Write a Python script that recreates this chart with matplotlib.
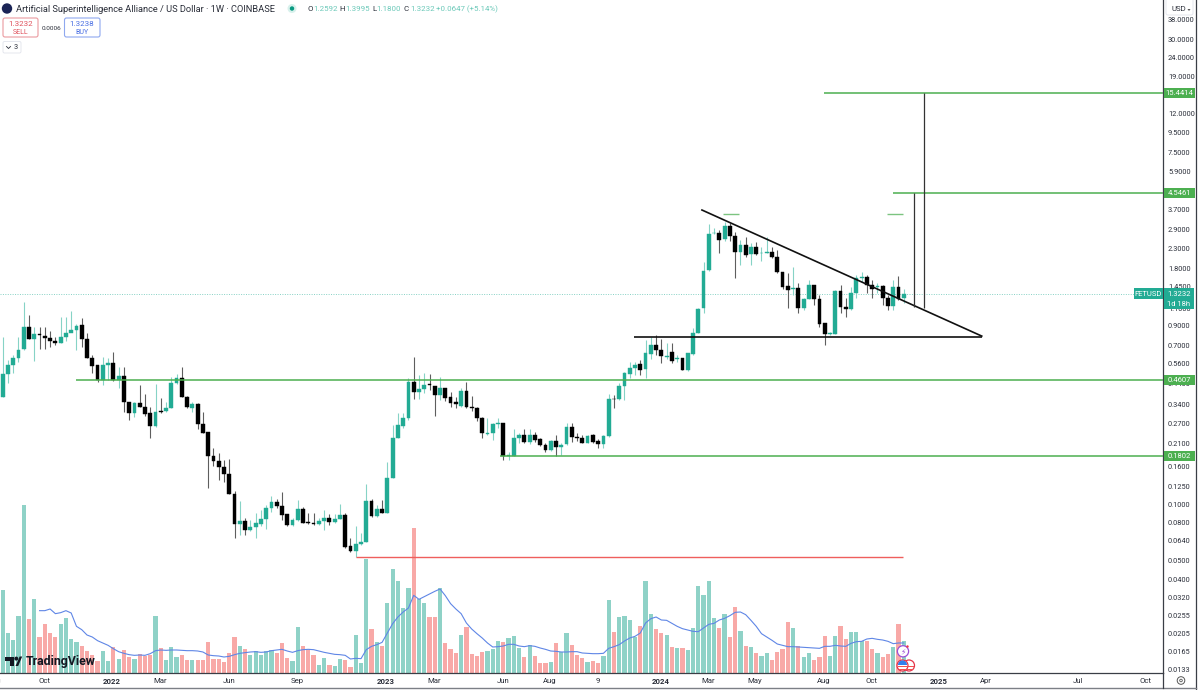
import matplotlib
matplotlib.use("Agg")
import matplotlib.pyplot as plt
from matplotlib.patches import Rectangle, FancyBboxPatch, Circle, Polygon, Wedge
from matplotlib.transforms import blended_transform_factory
import numpy as np

plt.rcParams['font.family'] = ['Roboto', 'DejaVu Sans']

OPENS = [.374,.494,.555,.600,.669,.876,.756,.808,.792,.773,
 .738,.726,.775,.821,.848,.900,.756,.604,.550,.459,
 .555,.564,.459,.480,.350,.306,.348,.332,.305,.261,
 .315,.315,.326,.443,.469,.372,.327,.343,.267,.242,
 .180,.171,.158,.146,.114,.0783,.0820,.0733,.0761,.0783,
 .0836,.0953,.1035,.0985,.0886,.0774,.0826,.0941,.0806,.0793,
 .0783,.0816,.0847,.0806,.0840,.0883,.0601,.0566,.0615,.0629,
 .104,.0868,.0947,.0904,.139,.227,.263,.288,.446,.395,
 .410,.436,.428,.380,.417,.371,.350,.334,.403,.331,
 .327,.289,.238,.241,.267,.270,.182,.182,.226,.234,
 .215,.234,.222,.207,.195,.217,.203,.209,.257,.229,
 .225,.213,.233,.217,.210,.231,.366,.363,.426,.494,
 .531,.557,.523,.635,.709,.667,.612,.650,.592,.599,
 .519,.632,.821,1.105,1.769,2.77,2.79,2.58,3.03,2.69,
 2.21,2.40,2.14,2.35,2.17,2.19,2.21,2.07,1.735,1.45,
 1.395,1.418,1.105,1.24,1.48,1.24,.92,.805,.805,1.36,
 1.128,1.096,1.329,1.61,1.62,1.465,1.43,1.455,1.26,1.137,1.44,1.2592]
HIGHS = [.775,.587,.624,.775,1.20,1.02,.876,.876,.883,.838,
 .781,.998,.998,1.075,.913,.978,.821,.624,.554,.611,
 .604,.645,.536,.536,.350,.352,.432,.386,.331,.437,
 .369,.352,.474,.492,.539,.377,.352,.345,.312,.242,
 .199,.187,.172,.174,.118,.104,.0844,.0826,.0897,.0934,
 .0992,.111,.107,.117,.0890,.0843,.106,.0973,.0904,.0897,
 .0843,.0934,.0890,.0890,.100,.0904,.0659,.0767,.0702,.129,
 .107,.0992,.106,.169,.264,.305,.305,.472,.606,.488,
 .498,.492,.428,.478,.417,.398,.374,.417,.446,.377,
 .331,.293,.287,.270,.287,.270,.191,.251,.239,.251,
 .251,.244,.225,.211,.220,.234,.211,.270,.270,.239,
 .234,.234,.237,.223,.234,.387,.380,.441,.508,.576,
 .576,.587,.750,.781,.795,.756,.720,.726,.624,.599,
 .642,.865,1.105,1.96,3.11,2.95,2.89,3.20,3.13,2.83,
 2.55,2.64,2.45,2.50,2.35,2.66,2.34,2.26,1.735,1.71,
 1.84,1.50,1.25,1.565,1.48,1.31,.927,.83,1.384,1.47,
 1.26,1.43,1.665,1.73,1.665,1.565,1.50,1.47,1.30,1.565,1.645,1.3995]
LOWS = [.374,.441,.503,.575,.664,.756,.582,.669,.669,.685,
 .705,.720,.744,.831,.664,.691,.599,.498,.450,.432,
 .459,.455,.414,.311,.282,.293,.331,.295,.226,.259,
 .305,.311,.325,.437,.372,.325,.311,.251,.241,.122,
 .160,.135,.131,.113,.0664,.069,.0690,.0722,.0666,.0767,
 .0737,.0915,.0953,.0826,.0767,.0767,.0820,.0793,.0787,.0777,
 .0777,.0731,.0774,.0793,.0833,.0584,.0560,.0527,.0609,.0629,
 .0861,.0861,.0897,.0904,.138,.225,.255,.281,.365,.363,
 .390,.406,.295,.359,.356,.331,.325,.331,.327,.315,
 .279,.227,.234,.220,.254,.173,.173,.182,.211,.211,
 .209,.216,.204,.191,.193,.182,.184,.207,.216,.218,
 .211,.211,.213,.199,.199,.229,.325,.359,.359,.469,
 .488,.488,.469,.592,.624,.569,.592,.564,.575,.517,
 .515,.624,.814,1.04,1.75,2.74,2.17,2.53,2.53,1.60,
 1.88,2.08,1.88,2.13,1.98,2.17,2.05,1.71,1.41,1.105,
 1.30,1.05,1.083,1.235,1.15,.876,.702,.797,.805,1.04,
 .998,1.09,1.25,1.53,1.33,1.26,1.33,1.15,1.09,1.09,1.224,1.18]
CLOSES = [.494,.555,.604,.664,.876,.756,.808,.795,.773,.738,
 .726,.775,.821,.848,.894,.756,.599,.547,.457,.555,
 .564,.459,.480,.352,.308,.347,.332,.303,.261,.312,
 .311,.326,.443,.469,.372,.328,.341,.267,.241,.180,
 .171,.158,.145,.114,.0783,.0816,.0733,.0761,.0793,.0836,
 .0953,.1035,.0985,.0879,.0774,.0826,.0941,.0800,.0793,.0783,
 .0816,.0847,.0806,.0840,.0879,.0596,.0566,.0615,.0634,.104,
 .0868,.0947,.0904,.139,.227,.264,.288,.446,.395,.410,
 .432,.430,.380,.417,.369,.345,.343,.403,.331,.325,
 .288,.239,.241,.267,.270,.182,.184,.226,.234,.214,
 .234,.220,.206,.194,.217,.203,.207,.257,.229,.225,
 .213,.232,.216,.209,.231,.363,.362,.426,.498,.531,
 .555,.519,.637,.709,.664,.616,.620,.582,.599,.519,
 .637,.821,1.096,1.755,2.75,2.79,2.56,3.03,2.68,2.21,
 2.40,2.13,2.35,2.14,2.19,2.21,2.07,1.72,1.44,1.384,
 1.418,1.105,1.24,1.48,1.24,.913,.808,.814,1.367,1.128,
 1.096,1.329,1.61,1.63,1.47,1.41,1.455,1.26,1.137,1.44,1.245,1.3232]
VOLUMES = [250,120,100,172,505,163,222,108,147,120,
 107,148,165,103,94,80,67,53,37,67,
 37,77,43,70,49,43,57,51,53,172,
 75,40,79,49,53,39,39,40,40,93,
 43,43,33,60,107,81,72,55,66,55,
 65,70,61,91,44,35,138,82,70,53,
 23,46,25,21,43,38,17,114,30,342,
 133,93,82,210,312,275,196,256,435,222,
 210,168,168,255,90,72,59,115,138,56,
 51,63,67,73,96,93,105,112,74,48,
 84,51,31,29,34,89,62,119,84,55,
 44,33,36,31,50,220,122,169,171,159,
 107,141,277,176,133,121,113,77,74,75,
 69,135,261,235,277,166,136,176,109,197,
 125,81,79,61,51,61,39,64,71,152,
 135,80,47,59,39,47,110,51,110,141,
 103,124,124,95,97,73,59,47,57,79,148,95]
VOLUME_MA = [187,187,192,178,181,187,180,140,130,114,
 108,97,90,83,73,64,59,55,53,54,
 53,58,67,69,68,69,69,68,67,67,
 66,63,54,52,51,48,50,55,59,61,
 63,64,62,63,67,69,71,66,62,67,
 70,71,70,66,62,59,56,55,53,42,
 44,43,70,80,85,92,120,148,168,183,
 195,233,221,229,237,245,252,232,208,192,
 178,150,132,118,105,90,78,79,81,86,
 86,81,79,82,80,75,71,66,65,63,
 63,64,64,60,59,58,58,59,74,79,
 85,96,105,110,120,150,163,168,159,158,
 149,140,133,129,125,124,135,146,149,159,
 164,172,182,183,175,158,140,118,108,98,
 87,83,79,79,78,77,76,75,74,80,
 80,83,81,80,89,94,95,102,104,101,
 99,95,88,90,90]
MA_START = 7

PRICE_TICKS = [38,30,24,19,12,9.5,7.5,5.9,4.6,3.7,2.9,2.3,1.8,1.45,1.1,.9,.7,.56,.44,
               .34,.27,.21,.16,.125,.1,.08,.064,.05,.04,.032,.0255,.0205,.0165,.0133]
TIME_POS = [-1.6,7.84,20.7,29.8,42.9,55.8,72.7,81.8,94.9,103.8,112.9,124.9,133.8,142.8,155.8,164.8,177.7,186.6,204,216.8]
TIME_LABELS = ['Aug','Oct','2022','Mar','Jun','Sep','2023','Mar','Jun','Aug','9','2024','Mar','May','Aug','Oct','2025','Apr','Jul','Oct']
YEAR_LABELS = {'2022','2023','2024','2025'}

HLEVELS = [15.4414, 4.5461, 0.4607, 0.1802]
HSTARTS = [155.9, 169, 13.9, 94.4]
RED_LEVEL = 0.0527
RED_SPAN = [67, 170.8]
SUPPORT_LEVEL = 0.778
SUPPORT_SPAN = [119.8, 185.8]
TREND_X = [132.7, 185.8]
TREND_Y = [3.69, 0.787]
TARGET_X = [172.9, 174.8]
TARGET_TOP = [4.5461, 15.4414]
TARGET_BOTTOM = [1.12, 1.11]
SHORT_LEVEL = 3.51
SHORT_SPANS = [[136.7, 139.7], [167.8, 170.8]]
LAST_PRICE = 1.3232

GREEN = '#22ab94'; GWICK = '#86d3c6'; BLACK = '#000000'; BWICK = '#5e5e5e'
VGREEN = '#8fd2c7'; VRED = '#f8a9a7'; MA_BLUE = '#5f86e6'
LEVEL = '#4caf50'; RED = '#ef5f5c'; AXIS = '#3a3e46'; TXT = '#2a2e39'

W, H = 1200, 690
fig = plt.figure(figsize=(12, 6.9), dpi=100, facecolor='white')
rect = [0, 1-673/H, 1162.5/W, 673/H]
vax = fig.add_axes(rect, zorder=1)
ax = fig.add_axes(rect, zorder=2)
ax.patch.set_alpha(0)

XLIM = (-0.51, 220.1)
idx = np.arange(len(CLOSES))
o, h, l, c = map(np.array, (OPENS, HIGHS, LOWS, CLOSES))
up = c >= o

vax.bar(idx, VOLUMES, width=0.8, color=[VGREEN if u else VRED for u in up], linewidth=0)
vax.plot(np.arange(MA_START, MA_START+len(VOLUME_MA)), VOLUME_MA, color=MA_BLUE, lw=0.8)
vax.set_xlim(*XLIM); vax.set_ylim(0, 2019)
vax.axis('off')

ax.set_yscale('log')
ax.set_xlim(*XLIM)
ax.set_ylim(0.012668, 48.4)
ax.vlines(idx[up], l[up], h[up], color=GWICK, lw=0.8, zorder=2)
ax.vlines(idx[~up], l[~up], h[~up], color=BWICK, lw=0.8, zorder=2)
bodyc = [GREEN if u else BLACK for u in up]
ax.bar(idx, np.abs(c-o), bottom=np.minimum(o, c), width=0.72, color=bodyc, edgecolor=bodyc, linewidth=0.3, zorder=3)

ax.axhline(LAST_PRICE, color=GREEN, lw=0.7, ls=(0, (1, 1.5)), alpha=0.55, zorder=1)
for lev, st in zip(HLEVELS, HSTARTS):
    ax.hlines(lev, st, XLIM[1], color=LEVEL, lw=1.1, zorder=4)
ax.hlines(RED_LEVEL, *RED_SPAN, color=RED, lw=1.0, zorder=4)
ax.hlines(SUPPORT_LEVEL, *SUPPORT_SPAN, color='#111111', lw=1.2, zorder=4)
ax.plot(TREND_X, TREND_Y, color='#111111', lw=1.2, zorder=4)
ax.vlines(TARGET_X, TARGET_BOTTOM, TARGET_TOP, color='#333333', lw=0.9, zorder=4)
for span in SHORT_SPANS:
    ax.hlines(SHORT_LEVEL, *span, color='#7cc480', lw=1.0, zorder=4)

ax.minorticks_off()
ax.yaxis.tick_right()
ax.set_yticks(PRICE_TICKS)
ax.set_yticklabels([f'{t:.4f}' for t in PRICE_TICKS], fontsize=5.3, color=TXT)
ax.yaxis.set_minor_locator(matplotlib.ticker.NullLocator())
ax.tick_params(axis='y', length=0, pad=4.0)
ax.set_xticks([])
for s in ('top', 'left'):
    ax.spines[s].set_visible(False)
ax.spines['right'].set_color(AXIS); ax.spines['right'].set_linewidth(0.9)
ax.spines['bottom'].set_color(AXIS); ax.spines['bottom'].set_linewidth(0.9)
tr = blended_transform_factory(ax.transData, ax.transAxes)
for p, lab in zip(TIME_POS, TIME_LABELS):
    ax.text(p, -8/673, lab, transform=tr, ha='center', va='center', fontsize=5.6, color=TXT,
            fontweight='bold' if lab in YEAR_LABELS else 'normal', clip_on=False)

# overlay in pixel coordinates for the terminal chrome
ov = fig.add_axes([0, 0, 1, 1], zorder=5)
ov.set_xlim(0, W); ov.set_ylim(H, 0); ov.axis('off'); ov.patch.set_alpha(0)
def price_y(p):
    return ov.transData.inverted().transform(ax.transData.transform((0, p)))[1]
def tag(x0, x1, yc, hgt, text, col, fc='white', fs=5.5, bold=False):
    ov.add_patch(Rectangle((x0, yc-hgt/2), x1-x0, hgt, fc=col, ec='none', zorder=6))
    ov.text((x0+x1)/2, yc, text, ha='center', va='center', color=fc, fontsize=fs,
            fontweight='bold' if bold else 'normal', zorder=7)
for lev in HLEVELS:
    tag(1163.5, 1195, price_y(lev), 10, f'{lev:.4f}', LEVEL)
yc = price_y(LAST_PRICE)
tag(1134, 1163, yc, 10.5, 'FETUSD', GREEN)
tag(1163.5, 1194, yc, 10.5, f'{LAST_PRICE:.4f}', GREEN)
tag(1163.5, 1194, yc+10, 10, '1d 18h', GREEN)
ov.plot([1196, 1196], [0, H], color=AXIS, lw=0.9, zorder=8)
ov.plot([0, 1196], [688, 688], color='#7c7f86', lw=1.0, zorder=8)
ov.plot([1162.5, 1162.5], [673, 688], color=AXIS, lw=0.9, zorder=8)
# USD box
ov.add_patch(FancyBboxPatch((1166, -3), 27, 18, boxstyle='round,pad=0,rounding_size=2', fc='white', ec='#e0e3eb', lw=0.6, zorder=6))
ov.text(1172, 9, 'USD', fontsize=5.6, color=TXT, va='center', zorder=7)
ov.add_patch(Polygon([[1187.5, 9], [1190.5, 9], [1189, 11]], fc='#555555', ec='none', zorder=7))
# settings icon
ov.add_patch(Circle((1181, 680.5), 3.8, fc='none', ec='#555555', lw=0.7, zorder=7))
ov.add_patch(Circle((1181, 680.5), 1.3, fc='none', ec='#555555', lw=0.6, zorder=7))
# header
ov.add_patch(Circle((7, 8.5), 5.2, fc='#1b2456', ec='none', zorder=6))
ov.text(16, 9, 'Artificial Superintelligence Alliance / US Dollar · 1W · COINBASE', fontsize=6.7, color=TXT, va='center', zorder=7)
ov.add_patch(Circle((292, 8.5), 4.5, fc='#d8f1ec', ec='none', zorder=6))
ov.add_patch(Circle((292, 8.5), 2.2, fc='#089981', ec='none', zorder=7))
hx = [307, 339, 372, 404]
hlab = ['O', 'H', 'L', 'C']
hval = ['1.2592', '1.3995', '1.1800', '1.3232']
for x, a, b in zip(hx, hlab, hval):
    t = ov.text(x, 9, a, fontsize=5.7, color=TXT, va='center', zorder=7)
    ov.text(x+(4.5 if a == 'L' else 6), 9, b, fontsize=5.7, color='#6cc9b9', va='center', zorder=7)
ov.text(436, 9, '+0.0647 (+5.14%)', fontsize=5.7, color='#6cc9b9', va='center', zorder=7)
ov.add_patch(FancyBboxPatch((3, 18), 35, 19, boxstyle='round,pad=0,rounding_size=2', fc='white', ec='#ea9a9f', lw=0.8, zorder=6))
ov.add_patch(FancyBboxPatch((64.5, 18), 35.5, 19, boxstyle='round,pad=0,rounding_size=2', fc='white', ec='#8fa8ef', lw=0.8, zorder=6))
ov.text(20.5, 24, '1.3232', fontsize=5.8, color='#e0525d', ha='center', va='center', zorder=7)
ov.text(20.5, 32.5, 'SELL', fontsize=5.0, color='#e0525d', ha='center', va='center', zorder=7)
ov.text(82, 24, '1.3238', fontsize=5.8, color='#4a6fe3', ha='center', va='center', zorder=7)
ov.text(82, 32.5, 'BUY', fontsize=5.0, color='#4a6fe3', ha='center', va='center', zorder=7)
ov.text(51.5, 28, '0.0006', fontsize=4.6, color=TXT, ha='center', va='center', zorder=7)
ov.add_patch(FancyBboxPatch((3, 41.5), 18, 11.5, boxstyle='round,pad=0,rounding_size=1.5', fc='white', ec='#e0e3eb', lw=0.6, zorder=6))
ov.plot([6.5, 8.5, 10.5], [46.5, 48.5, 46.5], color=TXT, lw=0.6, zorder=7)
ov.text(16, 47.3, '3', fontsize=5.2, color=TXT, ha='center', va='center', zorder=7)
# TradingView mark
ov.add_patch(Polygon([[5, 656.5], [14, 656.5], [14, 666], [9.8, 666], [9.8, 660.5], [5, 660.5]], fc='#131722', ec='none', zorder=7))
ov.add_patch(Circle((16.3, 658.6), 2.0, fc='#131722', ec='none', zorder=7))
ov.add_patch(Polygon([[15.5, 666], [18.2, 666], [22.2, 656.5], [19.6, 656.5], [17.6, 661.5]], fc='#131722', ec='none', zorder=7))
ov.text(26, 661.5, 'TradingView', fontsize=8.9, color='#131722', fontweight='bold', va='center', zorder=7)
# event icons
ov.add_patch(Circle((903, 651.3), 5.6, fc='white', ec='#9c4fd6', lw=0.9, zorder=7))
ov.text(903, 651.5, '\u26a1', fontsize=5.5, color='#9c4fd6', family=['DejaVu Sans'], ha='center', va='center', zorder=8)
ov.add_patch(Circle((907.5, 646.5), 1.2, fc='#f23645', ec='none', zorder=8))
for cx in (909, 902.5):
    ov.add_patch(Circle((cx, 665.5), 5.5, fc='white', ec='#e5354a', lw=0.9, zorder=7))
    ov.add_patch(Rectangle((cx-4.5, 666), 9, 1.2, fc='#ef5350', ec='none', zorder=8))
    ov.add_patch(Rectangle((cx-4, 668.5), 8, 1.2, fc='#ef5350', ec='none', zorder=8))
ov.add_patch(Wedge((902.5, 665), 4.6, 180, 360, fc='#2f80ed', ec='none', zorder=9))

fig.savefig('out.png', dpi=100)
